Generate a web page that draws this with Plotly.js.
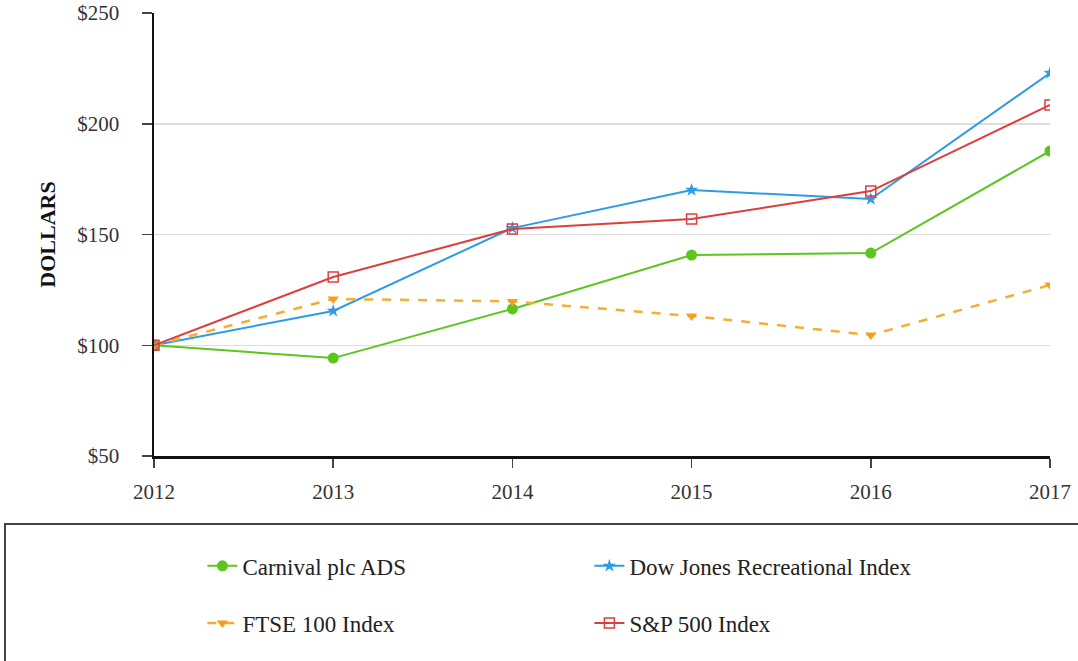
<!DOCTYPE html>
<html>
<head>
<meta charset="utf-8">
<script src="https://cdn.plot.ly/plotly-3.0.1.min.js"></script>
<style>html,body{margin:0;padding:0;background:#fff;}#chart{width:1078px;height:661px;}</style>
</head>
<body>
<div id="chart"></div>
<script>
const years = [2012, 2013, 2014, 2015, 2016, 2017];
const carnival = [100, 94.2, 116.4, 140.7, 141.6, 187.7];
const dowJones = [100, 115.5, 152.9, 170.1, 166.0, 222.9];
const ftse = [100, 120.9, 119.8, 113.2, 104.6, 127.2];
const sp500 = [100, 130.8, 152.5, 157.0, 169.6, 208.5];
const yTicks = [50, 100, 150, 200, 250];

const FONT = "Liberation Serif, Times New Roman, serif";

const traces = [
  {x: years, y: carnival, name: "Carnival plc ADS", mode: "lines+markers", legend: "legend",
   line: {color: "#5CC51E", width: 2}, marker: {symbol: "circle", size: 11, color: "#5CC51E"}},
  {x: years, y: dowJones, name: "Dow Jones Recreational Index", mode: "lines+markers", legend: "legend",
   line: {color: "#2F9BE5", width: 2}, marker: {symbol: "star", size: 10, color: "#2F9BE5"}},
  {x: years, y: ftse, name: "FTSE 100 Index", mode: "lines+markers", legend: "legend2",
   line: {color: "#F2AE35", width: 2.5, dash: "dash"}, marker: {symbol: "triangle-down", size: 10, color: "#F2A01E"}},
  {x: years, y: sp500, name: "S&P 500 Index", mode: "lines+markers", legend: "legend2",
   line: {color: "#DC3F3C", width: 2}, marker: {symbol: "square-open", size: 10, color: "#DC3F3C", line: {width: 1.5}}}
];

const layout = {
  width: 1078, height: 661,
  margin: {l: 154, r: 28, t: 13, b: 205},
  paper_bgcolor: "#fff", plot_bgcolor: "#fff",
  font: {family: FONT, size: 21, color: "#222"},
  showlegend: true,
  xaxis: {
    range: [2012, 2017], tickvals: years, ticktext: years.map(String),
    showgrid: false, zeroline: false,
    showline: true, linecolor: "#111", linewidth: 2.5,
    ticks: "outside", ticklen: 9, tickcolor: "#444", tickwidth: 1.5,
    ticklabelstandoff: 6,
    tickfont: {family: FONT, size: 21, color: "#333"}
  },
  yaxis: {
    range: [50, 250], tickvals: yTicks, ticktext: yTicks.map(v => "$" + v),
    showgrid: true, gridcolor: "#dedede", gridwidth: 1.5, zeroline: false,
    showline: true, linecolor: "#111", linewidth: 2.5,
    ticks: "outside", ticklen: 10, tickcolor: "#444", tickwidth: 1.5,
    ticklabelstandoff: 18,
    tickfont: {family: FONT, size: 21, color: "#333"},
    title: {text: "<b>DOLLARS</b>", font: {family: FONT, size: 22, color: "#111"}, standoff: 16}
  },
  legend: {
    orientation: "h", x: 0.054, xanchor: "left", y: -0.248, yanchor: "middle",
    entrywidth: 342, entrywidthmode: "pixels", bgcolor: "rgba(0,0,0,0)",
    font: {family: FONT, size: 23, color: "#222"}
  },
  legend2: {
    orientation: "h", x: 0.054, xanchor: "left", y: -0.377, yanchor: "middle",
    entrywidth: 342, entrywidthmode: "pixels", bgcolor: "rgba(0,0,0,0)",
    font: {family: FONT, size: 23, color: "#222"}
  },
  shapes: [
    {type: "rect", xref: "paper", yref: "paper",
     x0: -0.1663, x1: 1.04, y0: -0.1535, y1: -0.48,
     line: {color: "#444", width: 2}, fillcolor: "rgba(0,0,0,0)"}
  ]
};

Plotly.newPlot("chart", traces, layout, {displayModeBar: false, staticPlot: true});
</script>
</body>
</html>
